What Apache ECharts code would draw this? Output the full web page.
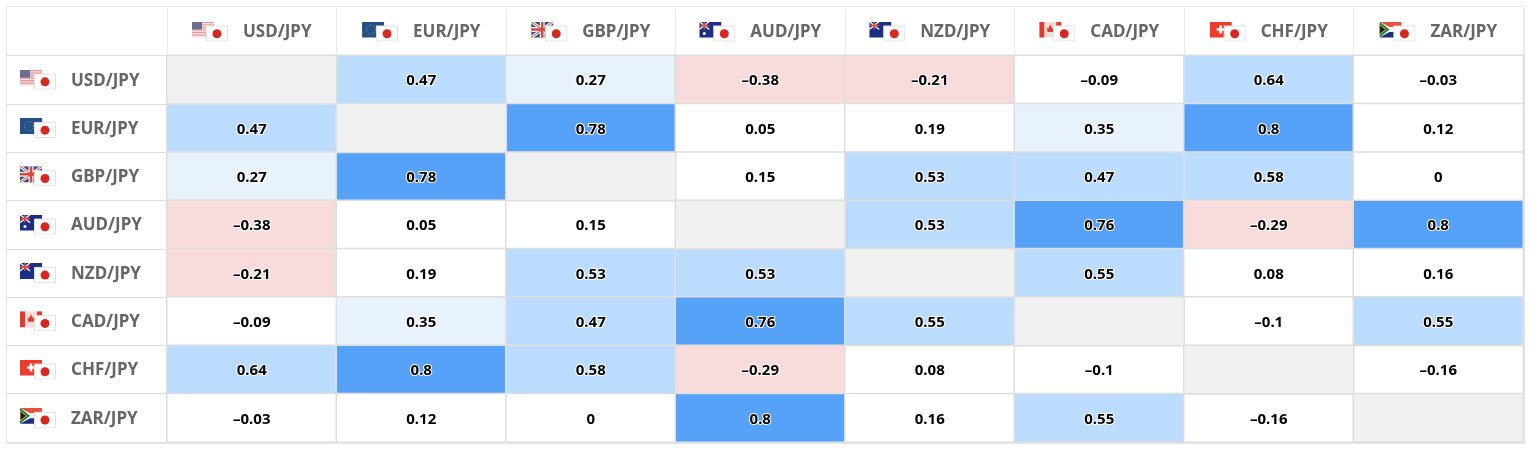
<!DOCTYPE html>
<html>
<head>
<meta charset="utf-8">
<style>
  html, body { margin: 0; padding: 0; background: #fff; }
  #main { width: 1532px; height: 452px; }
</style>
<script src="https://cdn.jsdelivr.net/npm/echarts@6/dist/echarts.min.js"></script>
</head>
<body>
<div id="main"></div>
<script>
const pairs = ['USD/JPY', 'EUR/JPY', 'GBP/JPY', 'AUD/JPY', 'NZD/JPY', 'CAD/JPY', 'CHF/JPY', 'ZAR/JPY'];

const usdRow = [null, 0.47, 0.27, -0.38, -0.21, -0.09, 0.64, -0.03];
const eurRow = [0.47, null, 0.78, 0.05, 0.19, 0.35, 0.8, 0.12];
const gbpRow = [0.27, 0.78, null, 0.15, 0.53, 0.47, 0.58, 0];
const audRow = [-0.38, 0.05, 0.15, null, 0.53, 0.76, -0.29, 0.8];
const nzdRow = [-0.21, 0.19, 0.53, 0.53, null, 0.55, 0.08, 0.16];
const cadRow = [-0.09, 0.35, 0.47, 0.76, 0.55, null, -0.1, 0.55];
const chfRow = [0.64, 0.8, 0.58, -0.29, 0.08, -0.1, null, -0.16];
const zarRow = [-0.03, 0.12, 0, 0.8, 0.16, 0.55, -0.16, null];
const rows = [usdRow, eurRow, gbpRow, audRow, nzdRow, cadRow, chfRow, zarRow];

// small flags, the base currency with the yen flag on top of it
const baseFlags = {
  USD: '<rect width="22" height="16" fill="#f6dcdc"/><path d="M0 1h22M0 3.5h22M0 6h22M0 8.5h22M0 11h22M0 13.5h22" stroke="#e09a9a" stroke-width="1.2"/><rect width="10" height="8" fill="#6b6f96"/>',
  EUR: '<rect width="22" height="16" fill="#24508a"/><circle cx="9" cy="8" r="4.5" fill="none" stroke="#d9c84a" stroke-width="0.8" stroke-dasharray="0.8 1.6"/>',
  GBP: '<rect width="22" height="16" fill="#2f4a8c"/><path d="M0 0L22 16M22 0L0 16" stroke="#f2f2f2" stroke-width="3"/><path d="M11 0V16M0 8H22" stroke="#f2f2f2" stroke-width="5"/><path d="M0 0L22 16M22 0L0 16" stroke="#d8483f" stroke-width="1"/><path d="M11 0V16M0 8H22" stroke="#d8483f" stroke-width="2.5"/>',
  AUD: '<rect width="22" height="16" fill="#1c2f86"/><path d="M0 0L10 8M10 0L0 8" stroke="#eee" stroke-width="1.4"/><path d="M5 0V8M0 4H10" stroke="#d8483f" stroke-width="1.6"/><circle cx="5" cy="12" r="1.5" fill="#fff"/><circle cx="16" cy="5" r="0.8" fill="#fff"/>',
  NZD: '<rect width="22" height="16" fill="#1c2f86"/><path d="M0 0L10 8M10 0L0 8" stroke="#eee" stroke-width="1.4"/><path d="M5 0V8M0 4H10" stroke="#d8483f" stroke-width="1.6"/>',
  CAD: '<rect width="22" height="16" fill="#f6dddd"/><rect width="5" height="16" fill="#e23b2e"/><rect x="17" width="5" height="16" fill="#e23b2e"/><path d="M11 3l2 4 1.5-.5-.8 4H8.300l-.8-4L9 7z" fill="#e23b2e"/>',
  CHF: '<rect width="22" height="16" fill="#ee3b2c"/><path d="M11 4v8M7 8h8" stroke="#fff" stroke-width="2.6"/>',
  ZAR: '<rect width="22" height="16" fill="#fff"/><path d="M0 0H22V5.500H10z" fill="#e8503f"/><path d="M0 16H22V10.500H10z" fill="#1c2f86"/><path d="M0 0L10 8L0 16z" fill="#16803f"/><path d="M0 3L6.500 8L0 13z" fill="#1a1a1a" stroke="#e0b82e" stroke-width="1"/>'
};
const yenFlag = '<g transform="translate(14 4)"><rect x="0.5" y="0.5" width="21" height="15" fill="#fff" stroke="#e2e2e2"/><circle cx="11" cy="8.200" r="4.500" fill="#d7281f"/></g>';

function flagImage(code) {
  const svg = '<svg xmlns="http://www.w3.org/2000/svg" width="36" height="20" viewBox="0 0 36 20">' + baseFlags[code] + yenFlag + '</svg>';
  return 'data:image/svg+xml;charset=utf-8,' + encodeURIComponent(svg);
}

const labelRich = {
  gap: { width: 15 },
  t: { fontFamily: 'Noto Sans', fontWeight: 'bold', fontSize: 17, color: '#666666', padding: [2, 0, 0, 0] }
};
Object.keys(baseFlags).forEach(code => {
  labelRich[code] = { width: 36, height: 20, backgroundColor: { image: flagImage(code) } };
});
const pairLabel = value => '{' + value.slice(0, 3) + '|}{gap|}{t|' + value + '}';

const cells = [];
const diagonal = [];
rows.forEach((row, y) => {
  row.forEach((value, x) => {
    if (value === null) {
      diagonal.push([x, y, 1]);
    } else {
      cells.push([x, y, value]);
    }
  });
});

const chart = echarts.init(document.getElementById('main'));
chart.setOption({
  animation: false,
  backgroundColor: '#ffffff',
  grid: { left: 167, right: 9, top: 55.5, height: 386.5 },
  graphic: [{
    type: 'rect',
    silent: true,
    z: -1,
    shape: { x: 6.5, y: 6.5, width: 1518, height: 437 },
    style: { fill: 'none', stroke: '#e2e7e8', lineWidth: 1 }
  }],
  xAxis: {
    type: 'category',
    position: 'top',
    data: pairs,
    axisLine: { lineStyle: { color: '#dde1e8', width: 1 } },
    axisTick: { show: true, inside: false, length: 47, lineStyle: { color: '#e8ebee' } },
    axisLabel: { interval: 0, margin: 14, formatter: pairLabel, rich: labelRich },
    splitLine: { show: false }
  },
  yAxis: {
    type: 'category',
    inverse: true,
    data: pairs,
    axisLine: { lineStyle: { color: '#e0e2e4', width: 1 } },
    axisTick: { show: true, inside: false, length: 160, lineStyle: { color: '#dedede' } },
    axisLabel: { interval: 0, margin: 147, align: 'left', formatter: pairLabel, rich: labelRich },
    splitLine: { show: false }
  },
  visualMap: {
    show: false,
    type: 'piecewise',
    seriesIndex: 0,
    dimension: 2,
    pieces: [
      { lt: -0.2, color: '#f8dcdc' },
      { gte: -0.2, lt: 0.2, color: '#ffffff' },
      { gte: 0.2, lt: 0.4, color: '#e8f2fd' },
      { gte: 0.4, lt: 0.7, color: '#bbdcfe' },
      { gte: 0.7, color: '#56a2f9' }
    ]
  },
  series: [{
    type: 'heatmap',
    data: cells,
    itemStyle: { borderColor: '#dedede', borderWidth: 1.5 },
    label: {
      show: true,
      offset: [0, 1.5],
      fontFamily: 'Noto Sans',
      fontWeight: 'bold',
      fontSize: 15,
      color: '#000000',
      textBorderColor: '#ffffff',
      textBorderWidth: 2,
      formatter: p => String(p.value[2]).replace('-', '–')
    },
    emphasis: { disabled: true }
  }, {
    type: 'heatmap',
    data: diagonal,
    itemStyle: { color: '#f1f1f1', borderColor: '#dedede', borderWidth: 1.5 },
    label: { show: false },
    emphasis: { disabled: true }
  }]
});
</script>
</body>
</html>
